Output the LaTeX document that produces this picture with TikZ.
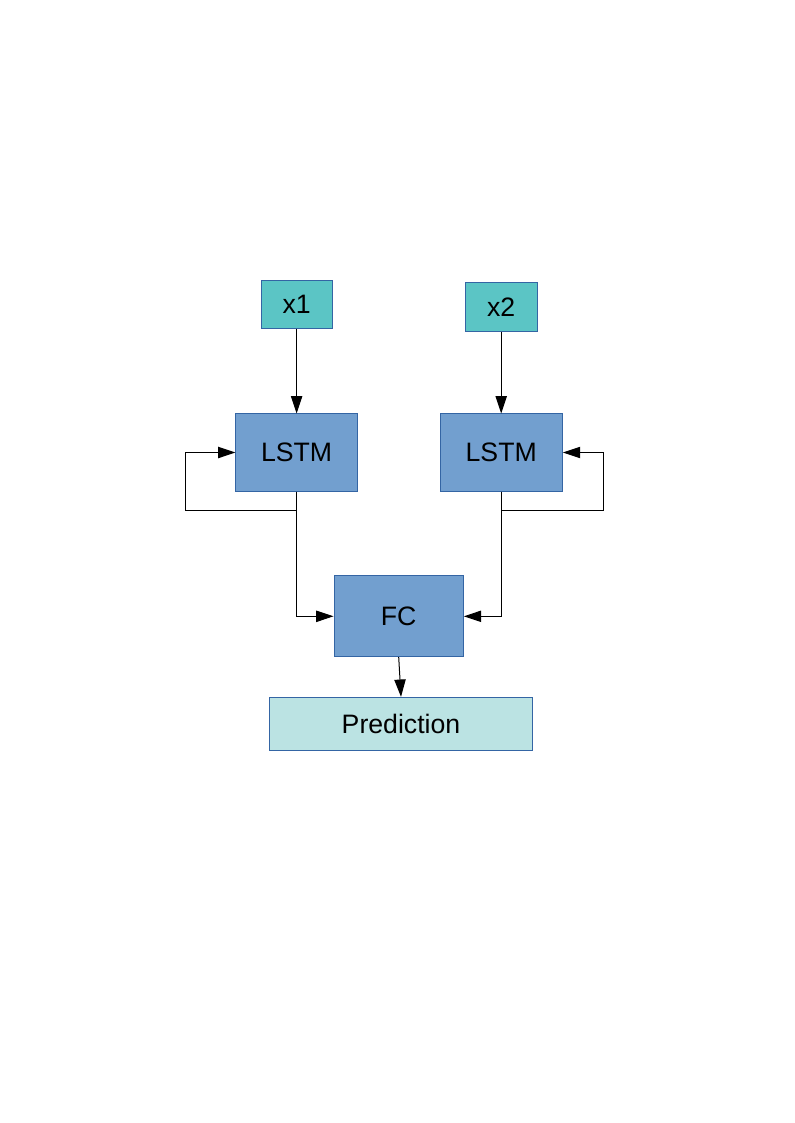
\documentclass[tikz,border=0pt]{standalone}
\usepackage{fontspec}
\setmainfont{Liberation Sans}
\usepackage{xcolor}
\usepackage{tikz}
\usetikzlibrary{arrows.meta,calc}
\definecolor{cInput}{HTML}{5BC5C5}
\definecolor{cLayer}{HTML}{729FCF}
\definecolor{cOutput}{HTML}{BBE3E3}
\definecolor{cBorder}{HTML}{3465A4}
\tikzstyle{tsBox} = [
    rectangle,
    draw=cBorder,
    line width=0.75pt,
    text=black,
    inner sep=0pt,
    font=\fontsize{20}{24}\selectfont
]
\tikzstyle{tsInput} = [
    tsBox,
    fill=cInput
]
\tikzstyle{tsLayer} = [
    tsBox,
    fill=cLayer
]
\tikzstyle{tsOutput} = [
    tsBox,
    fill=cOutput
]
\tikzstyle{tsArrow} = [
    line width=0.75pt,
    -{Triangle[length=13pt,width=8.5pt]}
]
\begin{document}
\begin{tikzpicture}[x=0.75pt, y=-0.75pt]

        \useasboundingbox (0,0) rectangle (794,1123);

        \node[tsInput, minimum width=53.3pt, minimum height=36pt] (x1) at (296.6,304.2) {x1};
        \node[tsInput, minimum width=54pt, minimum height=36.8pt] (x2) at (501.2,306.8) {x2};

        \node[tsLayer, minimum width=91pt, minimum height=57.8pt] (lstm1) at (296.6,452.5) {LSTM};
        \node[tsLayer, minimum width=91.7pt, minimum height=57.8pt] (lstm2) at (501.2,452.5) {LSTM};

        \node[tsLayer, minimum width=97pt, minimum height=60.5pt] (fc) at (398.7,616.3) {FC};
        \node[tsOutput, minimum width=197.5pt, minimum height=39.5pt] (pred) at (401,723.7) {Prediction};

        \coordinate (loopL) at (185.3,510.7);
        \coordinate (loopR) at (603.3,510.7);

        % inputs
        \draw[tsArrow] (x1.south) -- (lstm1.north);
        \draw[tsArrow] (x2.south) -- (lstm2.north);

        % recurrent loops
        \draw[tsArrow] (lstm1.south) |- (loopL) |- (lstm1.west);
        \draw[tsArrow] (lstm2.south) |- (loopR) |- (lstm2.east);

        % to FC and output
        \draw[tsArrow] (lstm1.south) |- (fc.west);
        \draw[tsArrow] (lstm2.south) |- (fc.east);
        \draw[tsArrow] (fc.south) -- (pred.north);

\end{tikzpicture}
\end{document}
